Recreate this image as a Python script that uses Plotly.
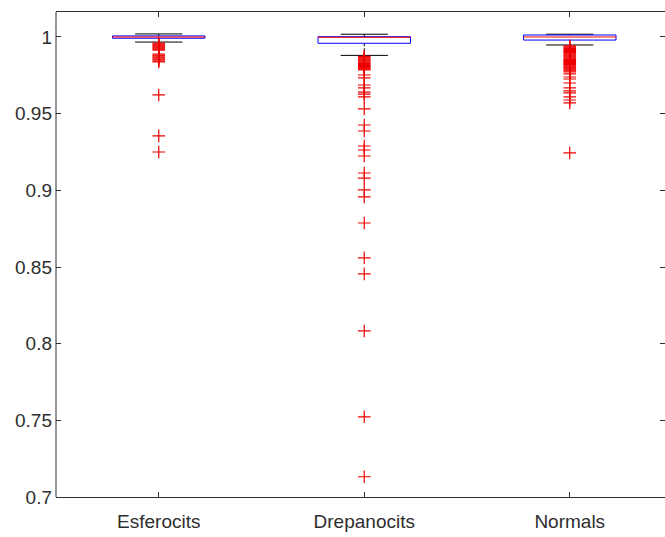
import plotly.graph_objects as go

# Category names and positions on the x axis
categories = ["Esferocits", "Drepanocits", "Normals"]
positions = [1, 2, 3]

# Box statistics for each group
q1 = [0.9992, 0.9959, 0.9980]
median = [1.0000, 0.9998, 1.0000]
q3 = [1.0007, 1.0002, 1.0013]
whisker_low = [0.9967, 0.9880, 0.9948]
whisker_high = [1.0020, 1.0018, 1.0018]

# Outliers for each group
outliers_esferocits = [
    0.9960, 0.9953, 0.9947, 0.9940, 0.9934, 0.9928, 0.9921, 0.9915,
    0.9889, 0.9882, 0.9876, 0.9869, 0.9863, 0.9856, 0.9850, 0.9843, 0.9837,
    0.9622, 0.9355, 0.9250,
]
outliers_drepanocits = [
    0.9874, 0.9868, 0.9862, 0.9856, 0.9850, 0.9844, 0.9838, 0.9832, 0.9826,
    0.9820, 0.9814, 0.9808, 0.9802, 0.9796, 0.9790, 0.9785,
    0.9752, 0.9733, 0.9687, 0.9668, 0.9641, 0.9628, 0.9609, 0.9531,
    0.9426, 0.9387, 0.9289, 0.9263, 0.9224, 0.9113, 0.9080, 0.9003, 0.8957,
    0.8787, 0.8560, 0.8455, 0.8083, 0.7523, 0.7132,
]
outliers_normals = [
    0.9942, 0.9936, 0.9930, 0.9924, 0.9918, 0.9912, 0.9906, 0.9900, 0.9894,
    0.9888, 0.9882, 0.9876, 0.9870, 0.9864, 0.9858, 0.9852, 0.9846, 0.9840,
    0.9834, 0.9828, 0.9822, 0.9816, 0.9810, 0.9804, 0.9798, 0.9792, 0.9786,
    0.9780, 0.9772, 0.9759, 0.9739, 0.9726, 0.9700, 0.9668, 0.9648, 0.9635,
    0.9609, 0.9589, 0.9570, 0.9244,
]
outliers = [outliers_esferocits, outliers_drepanocits, outliers_normals]

# Y axis ticks
y_ticks = [0.7, 0.75, 0.8, 0.85, 0.9, 0.95, 1.0]
y_tick_labels = ["0.7", "0.75", "0.8", "0.85", "0.9", "0.95", "1"]

BOX_HALF = 0.225
CAP_HALF = 0.115
TEXT = "#2e2e2e"

wx, wy, cx, cy, bx, by, mx, my = [], [], [], [], [], [], [], []
for i, c in enumerate(positions):
    # whiskers (dashed)
    wx += [c, c, None, c, c, None]
    wy += [q3[i], whisker_high[i], None, q1[i], whisker_low[i], None]
    # caps
    cx += [c - CAP_HALF, c + CAP_HALF, None, c - CAP_HALF, c + CAP_HALF, None]
    cy += [whisker_high[i], whisker_high[i], None, whisker_low[i], whisker_low[i], None]
    # box outline
    bx += [c - BOX_HALF, c + BOX_HALF, c + BOX_HALF, c - BOX_HALF, c - BOX_HALF, None]
    by += [q1[i], q1[i], q3[i], q3[i], q1[i], None]
    # median
    mx += [c - BOX_HALF, c + BOX_HALF, None]
    my += [median[i], median[i], None]

fig = go.Figure()
fig.add_trace(go.Scatter(x=wx, y=wy, mode="lines",
                         line=dict(color="black", width=1, dash="3px,2px"),
                         hoverinfo="skip"))
fig.add_trace(go.Scatter(x=cx, y=cy, mode="lines",
                         line=dict(color="black", width=1), hoverinfo="skip"))
fig.add_trace(go.Scatter(x=bx, y=by, mode="lines",
                         line=dict(color="#0000ff", width=1), hoverinfo="skip"))
fig.add_trace(go.Scatter(x=mx, y=my, mode="lines",
                         line=dict(color="#ff0000", width=1), hoverinfo="skip"))

ox, oy = [], []
for c, vals in zip(positions, outliers):
    ox += [c] * len(vals)
    oy += vals
fig.add_trace(go.Scatter(x=ox, y=oy, mode="markers",
                         marker=dict(symbol="cross-thin", size=9, color="#ee0000",
                                     line=dict(color="#ee0000", width=1.2))))

fig.update_layout(
    width=665, height=537,
    margin=dict(l=56, r=0, t=12, b=40),
    paper_bgcolor="white", plot_bgcolor="white",
    showlegend=False,
    font=dict(family="Liberation Sans, Arial, sans-serif", size=19, color=TEXT),
    xaxis=dict(range=[0.5, 0.5 + 609 / 205.5], tickvals=positions, ticktext=categories,
               ticks="inside", ticklen=5, tickcolor=TEXT, showline=True,
               linecolor=TEXT, linewidth=1, mirror="ticks", showgrid=False,
               zeroline=False, ticklabelstandoff=7),
    yaxis=dict(range=[0.7, 1.0163], tickvals=y_ticks, ticktext=y_tick_labels,
               ticks="inside", ticklen=5, tickcolor=TEXT, showline=False,
               mirror="ticks", showgrid=False, zeroline=False,
               ticklabelstandoff=3),
    shapes=[dict(type="line", xref="paper", yref="paper", x0=0, x1=0, y0=0, y1=1,
                 line=dict(color=TEXT, width=1))],
)

fig.write_html("out.html")
